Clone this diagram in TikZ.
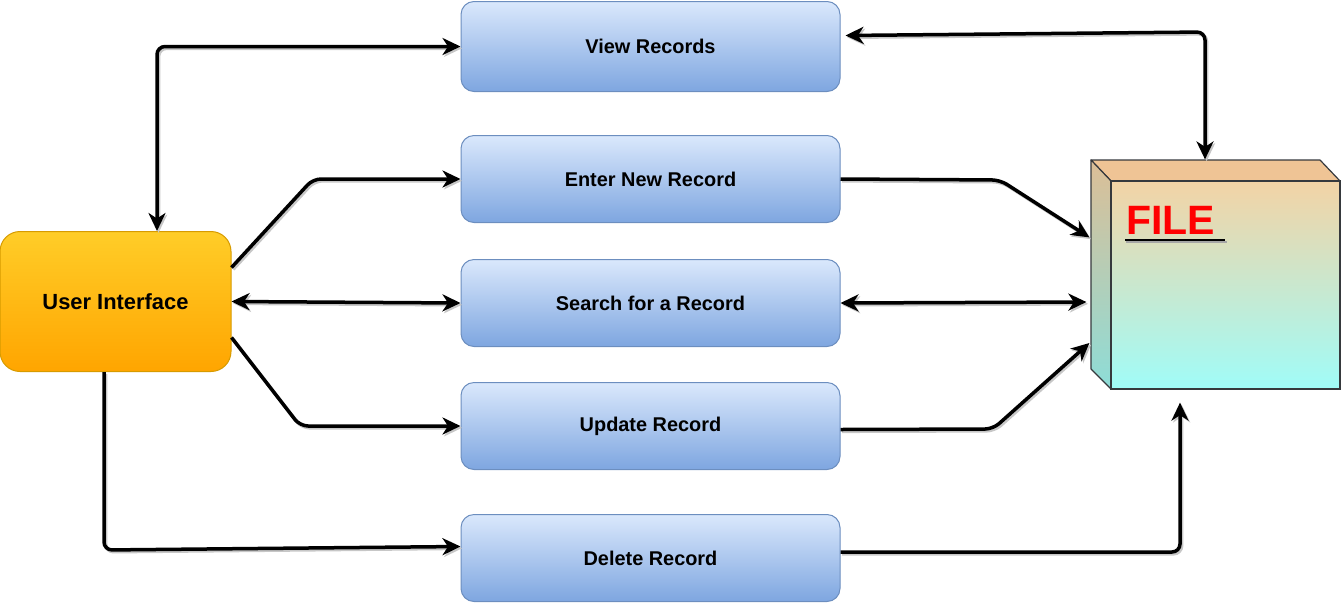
\documentclass[tikz,border=0pt]{standalone}
\usepackage{fontspec}
\setmainfont{Liberation Sans}
\usetikzlibrary{arrows.meta,calc}
\definecolor{btop}{HTML}{DAE8FC}
\definecolor{bbot}{HTML}{7EA6E0}
\definecolor{bstroke}{HTML}{6C8EBF}
\definecolor{otop}{HTML}{FFCD28}
\definecolor{obot}{HTML}{FFA500}
\definecolor{ostroke}{HTML}{D79B00}
\definecolor{cstroke}{HTML}{36393D}
\definecolor{ctopface}{HTML}{EFC495}
\definecolor{csidetop}{HTML}{DCBE96}
\definecolor{csidebot}{HTML}{8DDDD8}
\definecolor{cfronttop}{HTML}{F3D3A5}
\definecolor{cfrontbot}{HTML}{A0FCF8}
\definecolor{fred}{HTML}{FF0000}
\begin{document}
\begin{tikzpicture}[x=1pt,y=-1pt,
  bluebox/.style={draw=bstroke, line width=1pt, rounded corners=13pt,
    top color=btop, bottom color=bbot, minimum width=379pt, minimum height=87pt,
    inner sep=0pt, font=\fontsize{19.9}{22}\selectfont\bfseries},
  uibox/.style={draw=ostroke, line width=1pt, rounded corners=20pt,
    top color=otop, bottom color=obot, minimum width=231pt, minimum height=140pt,
    inner sep=0pt, font=\fontsize{21.9}{24}\selectfont\bfseries},
  frontface/.style={draw=cstroke, line width=1.2pt, top color=cfronttop,
    bottom color=cfrontbot, minimum width=229pt, minimum height=208pt, inner sep=0pt},
  cubeedge/.style={draw=cstroke, line width=1.2pt, line join=round},
  conn/.style={line width=3.5pt, rounded corners=8pt,
    preaction={draw=black!22, line width=3.5pt,
      transform canvas={shift={(1.6pt,-1.8pt)}}}},
  >={Stealth[length=18pt,width=17pt,inset=5.5pt]}]
\useasboundingbox (0,0) rectangle (1341,603);

% boxes
\node[bluebox, minimum height=90pt] (view) at (650.5,46.5) {View Records};
\node[bluebox] (enter) at (650.5,179) {Enter New Record};
\node[bluebox] (search) at (650.5,303) {Search for a Record};
\node[bluebox] (update) at (650.5,426) {Update Record};
\node[bluebox] (delete) at (650.5,558) {Delete Record};
\node[uibox] (ui) at (115.5,301.5) {User Interface};

% cube
\path[cubeedge, fill=ctopface] (1091,160) -- (1320,160) -- (1340,181) -- (1111,181) -- cycle;
\path[cubeedge, top color=csidetop, bottom color=csidebot] (1091,160) -- (1111,181) -- (1111,389) -- (1091,369) -- cycle;
\node[frontface] (filebox) at (1225.5,285) {};
\node[anchor=base west, inner sep=0pt, text=fred, font=\fontsize{41}{46}\selectfont\bfseries] (filetxt) at (1126,234.5) {FILE};
\draw[black!35, line width=1.2pt] ([xshift=0pt,yshift=-7.5pt]filetxt.base west) -- ++(101,0);
\draw[black, line width=1.2pt] ([xshift=-1pt,yshift=-5.5pt]filetxt.base west) -- ++(100,0);

% helper coordinates
\coordinate (b1) at (313,180);
\coordinate (b2) at (300,425);
\coordinate (b3) at (104,550);
\coordinate (b4) at (1000,180);
\coordinate (b5) at (993,429);
\coordinate (b6) at (1205,32);

% connectors
\draw[conn, <->] ([xshift=41.5pt]ui.north) |- (view.west);
\draw[conn, ->] ([yshift=34pt]ui.east) -- (enter.west -| b1) -- (enter.west);
\draw[conn, <->] (ui.east) -- (search.west);
\draw[conn, ->] ([yshift=-36pt]ui.east) -- (update.west -| b2) -- (update.west);
\draw[conn, ->] (ui.south -| b3) -- (b3) -- ([yshift=11.5pt]delete.west);

\draw[conn, <->] ([xshift=5pt,yshift=11pt]view.east) -- (b6) -- ([xshift=-20.5pt,yshift=21pt]filebox.north);
\draw[conn, ->] (enter.east) -- (b4) -- ([xshift=-21pt,yshift=-57pt]filebox.north west);
\draw[conn, <->] (search.east) -- ([xshift=-24pt,yshift=-17pt]filebox.west);
\draw[conn, ->] ([yshift=-3.5pt]update.east) -- (b5) -- ([xshift=-21pt,yshift=-58pt]filebox.west);
\draw[conn, ->] ([yshift=6pt]delete.east) -| ([xshift=-45.5pt,yshift=-13pt]filebox.south);
\end{tikzpicture}
\end{document}
